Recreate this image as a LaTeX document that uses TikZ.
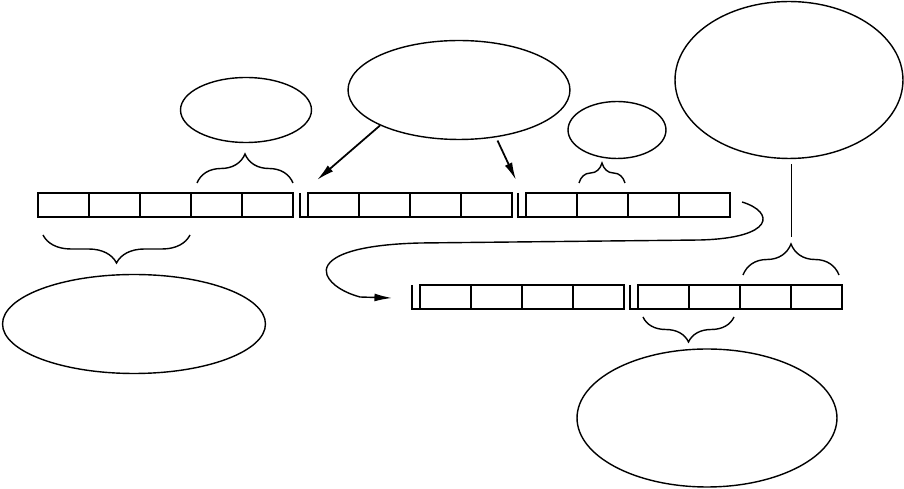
\documentclass[tikz,border=0pt]{standalone}
\usetikzlibrary{shapes.geometric,arrows.meta,decorations.pathreplacing}
\begin{document}
\begin{tikzpicture}[x=0.02cm,y=-0.02cm,line width=0.8pt,
  bubble/.style={draw,ellipse,inner sep=0pt},
  curly/.style={decorate,decoration={brace,amplitude=#1}},
  arr/.style={-{Latex[length=10pt,width=4.5pt]}}]
  \useasboundingbox (0,0) rectangle (904,489);
  \foreach \i in {0,...,4}
  {
    \pgfmathsetmacro{\x}{38 + \i*51};
    \draw (\x,193) rectangle ++(51,24);
  }
  \foreach \s/\y/\w in {308/193/0.8pt,526/193/1.1pt,420/285/1.1pt,638/285/1.1pt}
  {
    \draw [line width=\w] (\s-8,\y) -- (\s-8,\y+24) -- (\s,\y+24);
    \foreach \i in {0,...,3}
      \draw [line width=\w] (\s+\i*51,\y) rectangle ++(51,24);
  }
  \node [bubble,minimum width=2.62cm,minimum height=1.30cm] (keyA) at (246,110) {};
  \node [bubble,minimum width=4.44cm,minimum height=1.98cm] (keyB) at (459,90) {};
  \node [bubble,minimum width=1.96cm,minimum height=1.14cm] (keyC) at (617,130) {};
  \node [bubble,minimum width=4.56cm,minimum height=3.14cm] (keyD) at (789,80) {};
  \node [bubble,minimum width=5.26cm,minimum height=1.98cm] (keyE) at (134,324) {};
  \node [bubble,minimum width=5.20cm,minimum height=2.76cm] (keyF) at (707,418) {};
  \draw [curly=0.58cm] (197,183) -- (293,183);
  \draw [curly=0.56cm] (190,235) -- (43,235);
  \draw [curly=0.40cm] (579,183) -- (625,183);
  \draw [curly=0.62cm] (743,275) -- (839,275);
  \draw [curly=0.50cm] (734,317) -- (643,317);
  \coordinate (braceD) at (791,237);
  \draw [line width=0.5pt,shorten <=3pt] (keyD.south -| braceD) -- (braceD);
  \coordinate (gapA) at (317,180);
  \coordinate (gapB) at (516,180);
  \draw [arr,line width=1pt] (keyB.south west) -- (gapA);
  \draw [arr,line width=1pt,shorten <=2pt] (keyB.-52) -- (gapB);
  \coordinate (outC) at (742,202);
  \coordinate (inB) at (392,298);
  \draw [arr] (outC) .. controls (775,212) and (775,238) .. (700,240) -- (420,243)
    .. controls (340,245) and (322,262) .. (327,275)
    .. controls (331,285) and (345,293) .. (360,297) -- (inB);
\end{tikzpicture}
\end{document}
